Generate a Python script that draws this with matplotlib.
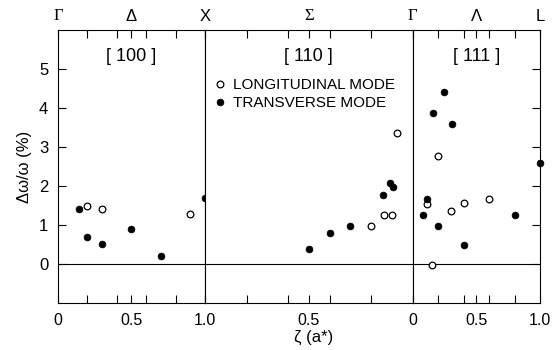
import matplotlib
matplotlib.use("Agg")
import matplotlib.pyplot as plt
import numpy as np

plt.rcParams['font.family'] = ['Liberation Sans', 'DejaVu Sans']

# ---- data ----
# [100] direction (Gamma -> X)
L100_z = [0.2, 0.3, 0.9]
L100_y = [1.50, 1.40, 1.29]
T100_z = [0.14, 0.2, 0.3, 0.5, 0.7, 1.0]
T100_y = [1.41, 0.70, 0.51, 0.90, 0.20, 1.69]

# [110] direction (X -> Gamma)
L110_z = [0.2, 0.14, 0.1, 0.075]
L110_y = [0.97, 1.26, 1.26, 3.37]
T110_z = [0.5, 0.4, 0.3, 0.145, 0.11, 0.095]
T110_y = [0.38, 0.79, 0.98, 1.77, 2.08, 1.97]

# [111] direction (Gamma -> L)
L111_z = [0.11, 0.155, 0.2, 0.3, 0.4, 0.6]
L111_y = [1.55, -0.02, 2.78, 1.37, 1.56, 1.66]
T111_z = [0.08, 0.11, 0.16, 0.2, 0.245, 0.305, 0.4, 0.8, 1.0]
T111_y = [1.26, 1.67, 3.87, 0.97, 4.40, 3.59, 0.49, 1.26, 2.58]

minor_ticks = [0, 0.2, 0.4, 0.5, 0.6, 0.8, 1.0]
panel_names = ['[ 100 ]', '[ 110 ]', '[ 111 ]']
sym_top = [[(0, 'Γ', 'serif'), (0.5, 'Δ', 'sans'), (1.0, 'X', 'sans')],
           [(0.5, 'Σ', 'serif')],
           [(0, 'Γ', 'serif'), (0.5, 'Λ', 'sans'), (1.0, 'L', 'sans')]]
yticks = [0, 1, 2, 3, 4, 5]

# ---- figure ----
fig = plt.figure(figsize=(5.56, 3.5), dpi=100)
gs = fig.add_gridspec(1, 3, width_ratios=[1, np.sqrt(2), np.sqrt(3) / 2],
                      left=58 / 556, right=540 / 556,
                      bottom=1 - 303 / 350, top=1 - 30 / 350, wspace=0)
axes = [fig.add_subplot(gs[0, i]) for i in range(3)]

lw = 0.8
open_kw = dict(ls='none', marker='o', ms=4.8, mfc='white', mec='black',
               mew=0.9, clip_on=False, zorder=5)
fill_kw = dict(ls='none', marker='o', ms=4.8, mfc='black', mec='black',
               mew=0.6, clip_on=False, zorder=5)

datasets = [(L100_z, L100_y, T100_z, T100_y),
            (L110_z, L110_y, T110_z, T110_y),
            (L111_z, L111_y, T111_z, T111_y)]

handles = None
for i, ax in enumerate(axes):
    lz, ly, tz, ty = datasets[i]
    ax.set_ylim(-1, 6)
    if i == 1:
        ax.set_xlim(1, 0)
    else:
        ax.set_xlim(0, 1)
    ax.axhline(0, color='black', lw=lw, zorder=1)
    hl, = ax.plot(lz, ly, label='LONGITUDINAL MODE', **open_kw)
    ht, = ax.plot(tz, ty, label='TRANSVERSE MODE', **fill_kw)
    if i == 1:
        handles = [hl, ht]
    for s in ax.spines.values():
        s.set_linewidth(lw)
    ax.set_xticks(minor_ticks)
    labels = []
    for t in minor_ticks:
        if t == 0.5:
            labels.append('0.5')
        elif i == 0 and t == 0:
            labels.append('0')
        elif i == 0 and t == 1.0:
            labels.append('1.0')
        elif i == 1 and t == 0:
            labels.append('0')
        elif i == 2 and t == 1.0:
            labels.append('1.0')
        else:
            labels.append('')
    ax.set_xticklabels(labels)
    ax.tick_params(axis='x', direction='in', top=True, bottom=True,
                   length=5.5, width=lw, labelsize=11.5, pad=7)
    if i == 0:
        ax.set_yticks(yticks)
        ax.tick_params(axis='y', direction='in', left=True, right=False,
                       length=5.5, width=lw, labelsize=12, pad=7)
        ax.set_ylabel('Δω/ω (%)', fontsize=12, labelpad=5)
    elif i == 2:
        ax.set_yticks(yticks)
        ax.tick_params(axis='y', direction='in', left=False, right=True,
                       labelleft=False, length=5.5, width=lw)
    else:
        ax.set_yticks([])
    ax.text(0.5, 5.32, panel_names[i], ha='center', va='center', fontsize=13)
    for (z, s, fam) in sym_top[i]:
        family = ['Liberation Serif', 'DejaVu Serif'] if fam == 'serif' else ['Liberation Sans', 'DejaVu Sans']
        ax.text(z, 1.05, s, transform=ax.get_xaxis_transform(),
                ha='center', va='center', fontsize=12, family=family)

leg = axes[1].legend(handles=handles, loc='upper left',
                     bbox_to_anchor=(0.015, 0.845), frameon=False,
                     fontsize=11, handlelength=0.8, handletextpad=0.45,
                     labelspacing=0.25, borderaxespad=0)

fig.text(314 / 556, 1 - 337 / 350, 'ζ (a*)', ha='center', va='center', fontsize=12)

fig.savefig('out.png', dpi=100)
